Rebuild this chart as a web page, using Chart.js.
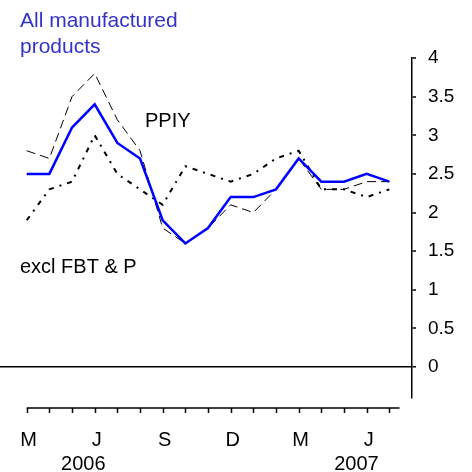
<!DOCTYPE html>
<html>
<head>
<meta charset="utf-8">
<script src="https://cdn.jsdelivr.net/npm/chart.js@4"></script>
<style>
html,body{margin:0;padding:0;background:#fff;}
#wrap{width:472px;height:472px;position:relative;}
canvas{display:block;}
</style>
</head>
<body>
<div id="wrap"><canvas id="c" width="472" height="472"></canvas></div>
<script>
// ---- Data ----
const months = ["Mar 2006","Apr 2006","May 2006","Jun 2006","Jul 2006","Aug 2006","Sep 2006","Oct 2006","Nov 2006","Dec 2006","Jan 2007","Feb 2007","Mar 2007","Apr 2007","May 2007","Jun 2007","Jul 2007"];
const monthTickLabels = ["M","","","J","","","S","","","D","","","M","","","J",""];
const yearLabels = ["2006","2007"];
const yearLabelIndex = [2.5, 14.55];
const allManufactured = [2.5,2.5,3.1,3.4,2.9,2.7,1.9,1.6,1.8,2.2,2.2,2.3,2.7,2.4,2.4,2.5,2.4];
const ppiy = [2.8,2.7,3.5,3.8,3.2,2.8,1.8,1.6,1.8,2.1,2.0,2.3,2.7,2.3,2.3,2.4,2.4];
const exclFbtP = [1.9,2.3,2.4,3.0,2.5,2.3,2.1,2.6,2.5,2.4,2.5,2.7,2.8,2.3,2.3,2.2,2.3];
const yTicks = [0,0.5,1,1.5,2,2.5,3,3.5,4];

const toPts = arr => arr.map((v,i)=>({x:i,y:v}));
const FONT = "'Liberation Sans', Arial, Helvetica, sans-serif";

const annot = {
  id:'annot',
  afterDraw(chart){
    const ctx = chart.ctx, xs = chart.scales.x;
    ctx.save();
    // x axis line and ticks
    const axY = 408;
    ctx.strokeStyle = '#000';
    ctx.lineWidth = 1.5;
    ctx.beginPath();
    ctx.moveTo(xs.getPixelForValue(0), axY);
    ctx.lineTo(xs.getPixelForValue(months.length - 0.55), axY);
    ctx.stroke();
    for (let i=0;i<months.length;i++){
      const px = Math.round(xs.getPixelForValue(i))+0.5;
      ctx.beginPath();
      ctx.moveTo(px, axY);
      ctx.lineTo(px, axY+5);
      ctx.stroke();
    }
    ctx.fillStyle = '#000';
    ctx.font = '20px ' + FONT;
    ctx.textAlign = 'center';
    ctx.textBaseline = 'alphabetic';
    monthTickLabels.forEach((t,i)=>{
      if (t) ctx.fillText(t, xs.getPixelForValue(i)+2, 446);
    });
    yearLabels.forEach((t,k)=>{
      ctx.fillText(t, xs.getPixelForValue(yearLabelIndex[k]), 470);
    });
    // texts
    ctx.textAlign = 'left';
    ctx.fillStyle = '#3333cc';
    ctx.font = '21px ' + FONT;
    ctx.fillText('All manufactured', 20, 27);
    ctx.fillText('products', 20, 53);
    ctx.fillStyle = '#000';
    ctx.font = '20px ' + FONT;
    ctx.fillText('PPIY', 145, 127);
    ctx.fillText('excl FBT & P', 20, 273);
    ctx.restore();
  }
};

new Chart(document.getElementById('c'), {
  type:'line',
  data:{
    datasets:[
      {label:'All manufactured products', data:toPts(allManufactured), borderColor:'#0000ff', borderWidth:2.5, pointRadius:0, tension:0, fill:false},
      {label:'PPIY', data:toPts(ppiy), borderColor:'#000', borderWidth:1, borderDash:[9,5], pointRadius:0, tension:0, fill:false},
      {label:'excl FBT & P', data:toPts(exclFbtP), borderColor:'#000', borderWidth:2, borderDash:[5,6,2,6], pointRadius:0, tension:0, fill:false}
    ]
  },
  options:{
    responsive:false,
    animation:false,
    events:[],
    layout:{padding:{left:0,right:10,top:58,bottom:74}},
    plugins:{legend:{display:false},tooltip:{enabled:false},title:{display:false}},
    scales:{
      x:{type:'linear', min:-1.178, max:17, display:false},
      y:{
        type:'linear', position:'right', min:-0.4, max:4,
        afterBuildTicks(s){ s.ticks = yTicks.map(v=>({value:v})); },
        afterFit(s){ s.width = 50; s.paddingTop = 0; s.paddingBottom = 0; },
        border:{display:true, color:'#000', width:1.5},
        grid:{
          drawOnChartArea:true, drawTicks:true, tickLength:4,
          color:c => (c.tick && c.tick.value===0) ? '#000' : 'rgba(0,0,0,0)',
          lineWidth:c => (c.tick && c.tick.value===0) ? 1.5 : 0,
          tickColor:'#000', tickWidth:1.5
        },
        ticks:{color:'#000', font:{family:FONT, size:19}, padding:12, callback:v=>String(v)}
      }
    }
  },
  plugins:[annot]
});
</script>
</body>
</html>
